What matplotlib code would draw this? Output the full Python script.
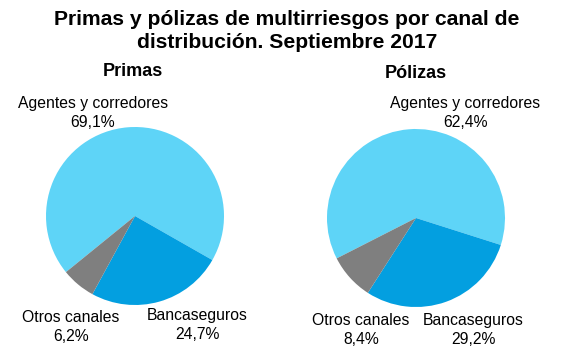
import matplotlib
matplotlib.use("Agg")
import matplotlib.pyplot as plt

plt.rcParams['font.family'] = ['Liberation Sans', 'DejaVu Sans']

title = "Primas y pólizas de multirriesgos por canal de\ndistribución. Septiembre 2017"
categories = ["Agentes y corredores", "Bancaseguros", "Otros canales"]
primas = [69.1, 24.7, 6.2]
polizas = [62.4, 29.2, 8.4]
colors = ["#5ed4f7", "#039fe0", "#7f7f7f"]

W, H = 567, 355
fig = plt.figure(figsize=(W / 100, H / 100), dpi=100)
fig.patch.set_facecolor("white")


def px(x, y):
    return x / W, 1 - y / H


def add_pie(values, cx, cy, r, start):
    ax = fig.add_axes([(cx - r) / W, (H - cy - r) / H, 2 * r / W, 2 * r / H])
    ax.pie(values, colors=colors, startangle=start, counterclock=False,
           wedgeprops=dict(linewidth=0))
    ax.set_xlim(-1, 1)
    ax.set_ylim(-1, 1)
    ax.set_aspect("equal")
    ax.axis("off")
    return ax


def fmt(v):
    return f"{v:.1f}".replace(".", ",") + "%"


add_pie(primas, 135, 216, 89, 219.1)
add_pie(polizas, 416, 218, 89, 207.0)

fig.text(*px(287, 31), title, ha="center", va="center", fontsize=15.2,
         fontweight="bold", linespacing=1.25)
fig.text(*px(133, 72), "Primas", ha="center", va="center", fontsize=13, fontweight="bold")
fig.text(*px(416, 74), "Pólizas", ha="center", va="center", fontsize=13, fontweight="bold")

lab_fs = 11.3
ls = 1.3
# Primas labels
fig.text(*px(93, 113), f"{categories[0]}\n{fmt(primas[0])}", ha="center", va="center",
         fontsize=lab_fs, linespacing=ls)
fig.text(*px(71, 327), f"{categories[2]}\n{fmt(primas[2])}", ha="center", va="center",
         fontsize=lab_fs, linespacing=ls)
fig.text(*px(197, 325), f"{categories[1]}\n{fmt(primas[1])}", ha="center", va="center",
         fontsize=lab_fs, linespacing=ls)
# Pólizas labels
fig.text(*px(465, 113), f"{categories[0]}\n{fmt(polizas[0])}", ha="center", va="center",
         fontsize=lab_fs, linespacing=ls)
fig.text(*px(361, 330), f"{categories[2]}\n{fmt(polizas[2])}", ha="center", va="center",
         fontsize=lab_fs, linespacing=ls)
fig.text(*px(473, 330), f"{categories[1]}\n{fmt(polizas[1])}", ha="center", va="center",
         fontsize=lab_fs, linespacing=ls)

fig.savefig("out.png", dpi=100, facecolor="white")
